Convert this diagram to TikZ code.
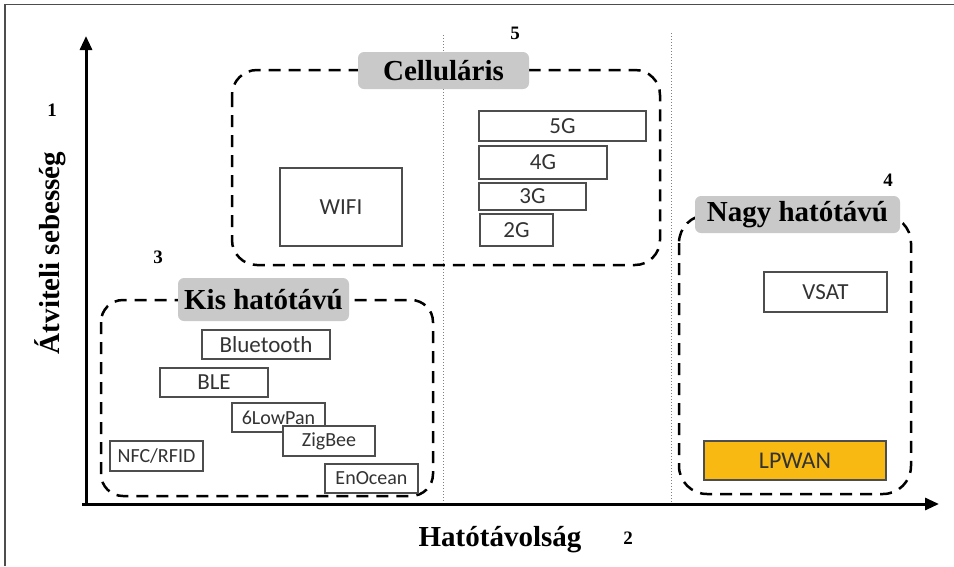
\documentclass[tikz,border=0pt]{standalone}
\usepackage{fontspec}
\setmainfont{Liberation Serif}
\newfontfamily\techfont{Carlito}
\usetikzlibrary{arrows.meta}
\definecolor{labelgray}{RGB}{201,201,201}
\definecolor{boxgray}{RGB}{77,77,77}
\definecolor{lpwanyellow}{RGB}{247,185,18}

\begin{document}
\begin{tikzpicture}[x=1pt, y=-1pt,
        tech/.style={draw=boxgray, line width=1.5pt, fill=white, inner sep=0pt, text=black!80, font=\techfont\fontsize{23}{26}\selectfont},
        techsmall/.style={tech, font=\techfont\fontsize{20}{24}\selectfont},
        groupline/.style={line width=2.5pt, dash pattern=on 12pt off 8pt},
        grouplabel/.style={fill=labelgray, rounded corners=6pt, inner sep=0pt, font=\bfseries\fontsize{29}{32}\selectfont},
        axislabel/.style={font=\bfseries\fontsize{29}{32}\selectfont},
        num/.style={font=\bfseries\fontsize{19}{22}\selectfont},
        axis/.style={line width=3pt, -{Triangle[length=14pt, width=12pt]}}]
        \useasboundingbox (0,0) rectangle (954,566);
        \draw[boxgray, line width=1.5pt] (954,4.5) -- (5,4.5) -- (5,566);

        \draw[gray, dotted, line width=1pt] (443,35) -- (443,504);
        \draw[gray, dotted, line width=1pt] (671,33) -- (671,504);

        \coordinate (origin) at (86,504);
        \coordinate (ytip) at (86,36);
        \coordinate (xtip) at (939,504);
        \draw[axis] (86,506) -- (ytip);
        \draw[axis] (82,504) -- (xtip);

        \node[axislabel, rotate=90] (speed) at (50,253) {Átviteli sebesség};
        \node[axislabel] (range) at (500,540) {Hatótávolság};

        \node[num] (n1) at (52,110) {1};
        \node[num] (n2) at (628,538) {2};
        \node[num] (n3) at (158,257) {3};
        \node[num] (n4) at (888,180) {4};
        \node[num] (n5) at (515,33) {5};

        \draw[groupline, rounded corners=25pt] (232,70) rectangle (660,265);
        \draw[groupline, rounded corners=22pt] (101,300) rectangle (433,496);
        \draw[groupline, rounded corners=28pt] (679,215) rectangle (911,494);

        \node[grouplabel, minimum width=171pt, minimum height=37pt] (cell) at (443.5,70.5) {Celluláris};
        \node[grouplabel, minimum width=171pt, minimum height=43pt] (short) at (263.5,299.5) {Kis hatótávú};
        \node[grouplabel, minimum width=205pt, minimum height=37pt] (long) at (797.5,214.5) {Nagy hatótávú};

        \node[tech, minimum width=122pt, minimum height=78pt] (wifi) at (341,207) {WIFI};
        \node[tech, minimum width=167pt, minimum height=30pt] (g5) at (562.5,126) {5G};
        \node[tech, minimum width=128pt, minimum height=33pt] (g4) at (543,162.5) {4G};
        \node[tech, minimum width=107pt, minimum height=27pt] (g3) at (532.5,196.5) {3G};
        \node[tech, minimum width=73pt, minimum height=32pt] (g2) at (516.5,230) {2G};

        \node[tech, minimum width=128pt, minimum height=29pt] (bt) at (266,344.5) {Bluetooth};
        \node[tech, minimum width=108pt, minimum height=29pt] (ble) at (214,382.5) {BLE};
        \node[techsmall, minimum width=93pt, minimum height=29pt] (lowpan) at (278.5,417.5) {6LowPan};
        \node[techsmall, minimum width=92pt, minimum height=30pt] (zigbee) at (329,441) {ZigBee};
        \node[techsmall, minimum width=93pt, minimum height=30pt] (nfc) at (156.5,456) {NFC/RFID};
        \node[techsmall, minimum width=93pt, minimum height=29pt] (enocean) at (371.5,478.5) {EnOcean};

        \node[tech, minimum width=123pt, minimum height=40pt] (vsat) at (825.5,292) {VSAT};
        \node[tech, fill=lpwanyellow, minimum width=182pt, minimum height=39pt, font=\techfont\fontsize{24}{27}\selectfont] (lpwan) at (795,460.5) {LPWAN};
    \end{tikzpicture}
\end{document}
